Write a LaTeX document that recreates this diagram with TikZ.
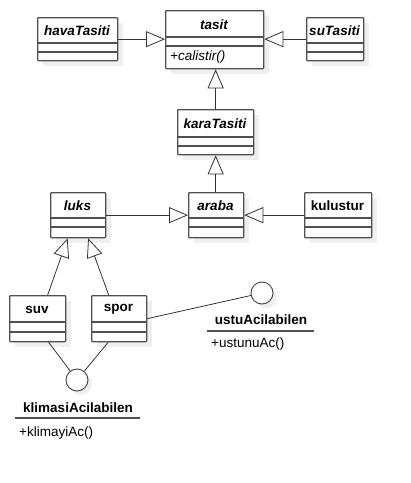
\documentclass[tikz,border=0pt]{standalone}
\usepackage{fontspec}
\setmainfont{Liberation Sans}
\usetikzlibrary{arrows.meta,calc}
\definecolor{bordc}{HTML}{505050}
\definecolor{linec}{HTML}{333333}
\definecolor{shadc}{HTML}{EFEFEF}
\tikzset{
  clsbox/.style={draw=bordc, line width=1.3pt, fill=white, inner sep=0pt, rounded corners=0.8pt},
  clsline/.style={draw=bordc, line width=1.3pt},
  clstitle/.style={inner sep=0pt, font=\fontsize{13.5}{15}\selectfont\bfseries},
  gen/.style={draw=linec, line width=0.8pt, -{Triangle[open, length=19pt, width=16pt, line width=0.8pt]}},
  real/.style={draw=linec, line width=0.8pt},
  iface/.style={circle, draw=bordc, line width=1pt, fill=white, minimum size=22pt, inner sep=0pt},
  ilabel/.style={inner sep=0pt, font=\fontsize{13.5}{15}\selectfont\bfseries},
  imeth/.style={inner sep=0pt, anchor=west, font=\fontsize{13.5}{15}\selectfont},
}
\newcommand{\umlcls}[8]{%
  \fill[shadc] (#2+6,#3+6) rectangle (#4+6,#5+6);
  \node[clsbox, anchor=north west, minimum width={(#4-#2)*1pt}, minimum height={(#5-#3)*1pt}] (#1) at (#2,#3) {};
  \draw[clsline] (#2,#6) -- (#4,#6) (#2,#7) -- (#4,#7);
  \node[clstitle] (#1-t) at ({(#2+#4)/2},{(#3+#6)/2+1}) {#8};
}
\begin{document}
\begin{tikzpicture}[x=1pt,y=-1pt]
\useasboundingbox (0,0) rectangle (411,483);
% classes
\umlcls{tasit}{165}{10}{263}{68}{37}{46}{\itshape tasit}
\node[imeth] (calistir) at (170,57) {\itshape +calistir()};
\umlcls{hava}{37}{17}{117}{60}{43}{52}{\itshape havaTasiti}
\umlcls{su}{306}{17}{363}{60}{43}{52}{\itshape suTasiti}
\umlcls{kara}{177}{109}{253}{154}{137}{146}{\itshape karaTasiti}
\umlcls{araba}{188}{192}{243}{237}{218}{227}{\itshape araba}
\umlcls{kulustur}{304}{192}{371}{237}{218}{227}{kulustur}
\umlcls{luks}{50}{192}{105}{237}{218}{227}{\itshape luks}
\umlcls{suv}{9}{295}{65}{341}{322}{332}{suv}
\umlcls{spor}{91}{295}{146}{341}{322}{332}{spor}
% interfaces
\fill[shadc] (266,297) circle (11);
\node[iface] (ustu) at (262,293) {};
\node[ilabel] (ustu-l) at (261,320) {ustuAcilabilen};
\draw[clsline] (207,331) coordinate (ustu-a) -- (314,331) coordinate (ustu-b);
\node[imeth] (ustu-m) at (211,344) {+ustunuAc()};
\fill[shadc] (81,384) circle (11);
\node[iface] (klim) at (77,380) {};
\node[ilabel] (klim-l) at (78,408) {klimasiAcilabilen};
\draw[clsline] (15,418) coordinate (klim-a) -- (140,418) coordinate (klim-b);
\node[imeth] (klim-m) at (19,433) {+klimayiAc()};
% generalizations
\draw[gen] (hava.east) -- (hava.east -| tasit.west);
\draw[gen] (su.west) -- (su.west -| tasit.east);
\draw[gen] (kara.north) -- (kara.north |- tasit.south);
\draw[gen] (araba.north -| kara.north) -- (kara.south);
\draw[gen] (luks.east) -- (luks.east -| araba.west);
\draw[gen] (kulustur.west) -- (kulustur.west -| araba.east);
\draw[gen] ($(suv.north)+(10,0)$) -- ($(luks.south)+(-10.5,0)$);
\draw[gen] ($(spor.north)+(-10.5,0)$) -- ($(luks.south)+(10,0)$);
% realizations
\draw[real] ($(suv.south)+(11,0)$) -- (klim);
\draw[real] ($(spor.south)+(-11,0)$) -- (klim);
\draw[real] ($(spor.east)+(0,0)$) -- (ustu);
\end{tikzpicture}
\end{document}
